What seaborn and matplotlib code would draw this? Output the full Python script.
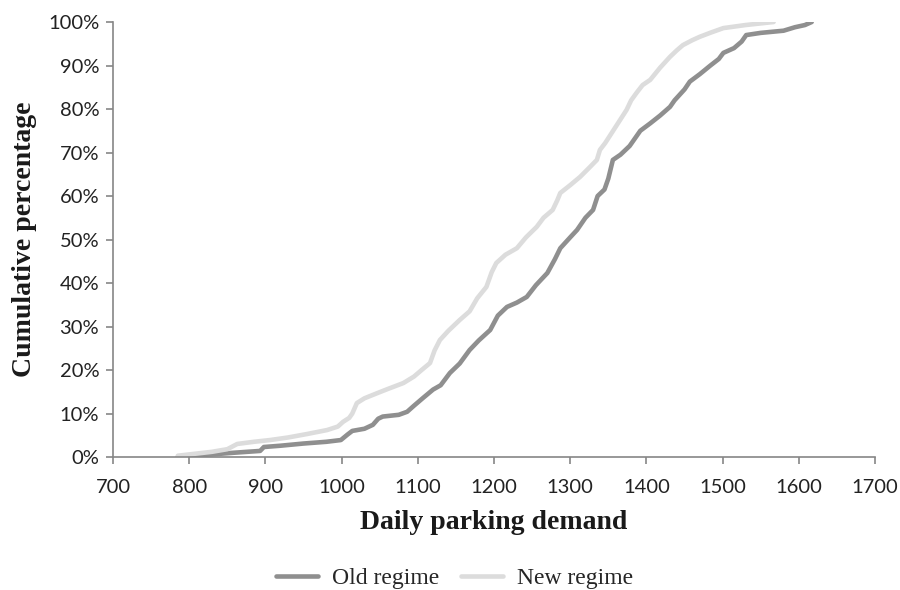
import numpy as np
import pandas as pd
import matplotlib
matplotlib.use("Agg")
import matplotlib.pyplot as plt
import seaborn as sns
from matplotlib.ticker import PercentFormatter

sns.set_style("white")
plt.rcParams['font.family'] = ['Lato', 'DejaVu Sans']

# values (daily demand, cumulative %)
old_demand = [785, 800, 830, 860, 885, 893, 898, 920, 950, 980, 999, 1008, 1014, 1030, 1041,
              1048, 1054, 1075, 1086, 1095, 1107, 1120, 1130, 1142, 1155, 1168, 1180, 1195,
              1205, 1217, 1230, 1243, 1255, 1270, 1280, 1287, 1300, 1309, 1320, 1330, 1336,
              1345, 1350, 1356, 1366, 1378, 1392, 1405, 1418, 1431, 1437, 1450, 1457, 1470,
              1484, 1495, 1501, 1515, 1525, 1531, 1550, 1580, 1595, 1608, 1617]
old_cum = [0.0, 0.3, 0.6, 1.0, 1.3, 1.4, 2.3, 2.6, 3.1, 3.5, 3.9, 5.2, 6.0, 6.5, 7.4,
           8.8, 9.3, 9.7, 10.4, 11.8, 13.6, 15.5, 16.5, 19.3, 21.5, 24.6, 26.8, 29.2,
           32.5, 34.5, 35.5, 36.8, 39.5, 42.3, 45.5, 48.0, 50.5, 52.2, 55.0, 56.8, 60.0,
           61.5, 64.0, 68.3, 69.5, 71.5, 75.0, 76.7, 78.5, 80.5, 82.0, 84.5, 86.3, 88.0,
           90.0, 91.5, 92.9, 94.0, 95.5, 97.0, 97.5, 98.0, 98.8, 99.3, 100.0]

new_demand = [785, 800, 830, 850, 863, 885, 906, 930, 955, 981, 995, 1002, 1010, 1014, 1020,
              1030, 1047, 1060, 1081, 1095, 1105, 1116, 1122, 1129, 1140, 1155, 1168, 1178,
              1190, 1197, 1203, 1215, 1230, 1242, 1256, 1265, 1277, 1283, 1287, 1300, 1313,
              1325, 1335, 1339, 1346, 1360, 1374, 1380, 1387, 1395, 1405, 1418, 1431, 1440,
              1448, 1460, 1470, 1485, 1501, 1530, 1567]
new_cum = [0.3, 0.6, 1.2, 1.8, 3.0, 3.5, 3.9, 4.5, 5.3, 6.2, 7.0, 8.1, 9.0, 10.0, 12.4,
           13.5, 14.7, 15.6, 17.0, 18.5, 20.0, 21.6, 24.5, 26.9, 29.0, 31.5, 33.5, 36.5,
           39.1, 42.5, 44.6, 46.5, 48.0, 50.5, 52.9, 55.0, 56.8, 59.0, 60.7, 62.5, 64.4,
           66.5, 68.3, 70.6, 72.2, 76.0, 79.8, 82.0, 83.7, 85.5, 86.7, 89.5, 92.0, 93.5,
           94.7, 95.8, 96.6, 97.6, 98.6, 99.3, 100.0]

regimes = ['Old regime', 'New regime']
colors = {'Old regime': '#8f8f8f', 'New regime': '#dcdcdc'}

df = pd.concat([
    pd.DataFrame({'demand': old_demand, 'cum': old_cum, 'regime': regimes[0]}),
    pd.DataFrame({'demand': new_demand, 'cum': new_cum, 'regime': regimes[1]}),
], ignore_index=True)

fig, ax = plt.subplots(figsize=(9, 5.9), dpi=100)
fig.subplots_adjust(left=0.1256, right=0.9722, top=0.9627, bottom=0.2254)

sns.lineplot(data=df, x='demand', y='cum', hue='regime', hue_order=regimes,
             palette=colors, estimator=None, sort=False, linewidth=3.3,
             solid_capstyle='round', ax=ax, legend=False)

ax.set_xlim(700, 1700)
ax.set_ylim(0, 100)
ax.set_xticks(np.arange(700, 1701, 100))
ax.set_yticks(np.arange(0, 101, 10))
ax.yaxis.set_major_formatter(PercentFormatter(decimals=0))

for s in ['top', 'right']:
    ax.spines[s].set_visible(False)
for s in ['left', 'bottom']:
    ax.spines[s].set_color('#868686')
    ax.spines[s].set_linewidth(1.2)

ax.tick_params(axis='x', bottom=True, direction='out', length=5, width=1.2,
               color='#868686', labelsize=14.5, pad=11, labelcolor='#222222')
ax.tick_params(axis='y', left=True, direction='out', length=5, width=1.2,
               color='#868686', labelsize=14.5, pad=5, labelcolor='#222222')

serif = ['Liberation Serif', 'DejaVu Serif']
ax.set_xlabel('Daily parking demand', family=serif, fontweight='bold', fontsize=20,
              labelpad=10, color='#1a1a1a')
ax.set_ylabel('Cumulative percentage', family=serif, fontweight='bold', fontsize=20,
              labelpad=8, color='#1a1a1a')

handles = [plt.Line2D([], [], color=colors[r], lw=3.3) for r in regimes]
fig.legend(handles, regimes, loc='lower center', bbox_to_anchor=(0.505, -0.035), ncol=2,
           frameon=False, prop={'family': serif, 'size': 17}, handlelength=1.8,
           handletextpad=0.6, columnspacing=0.9)

fig.savefig('out.png', dpi=100)
